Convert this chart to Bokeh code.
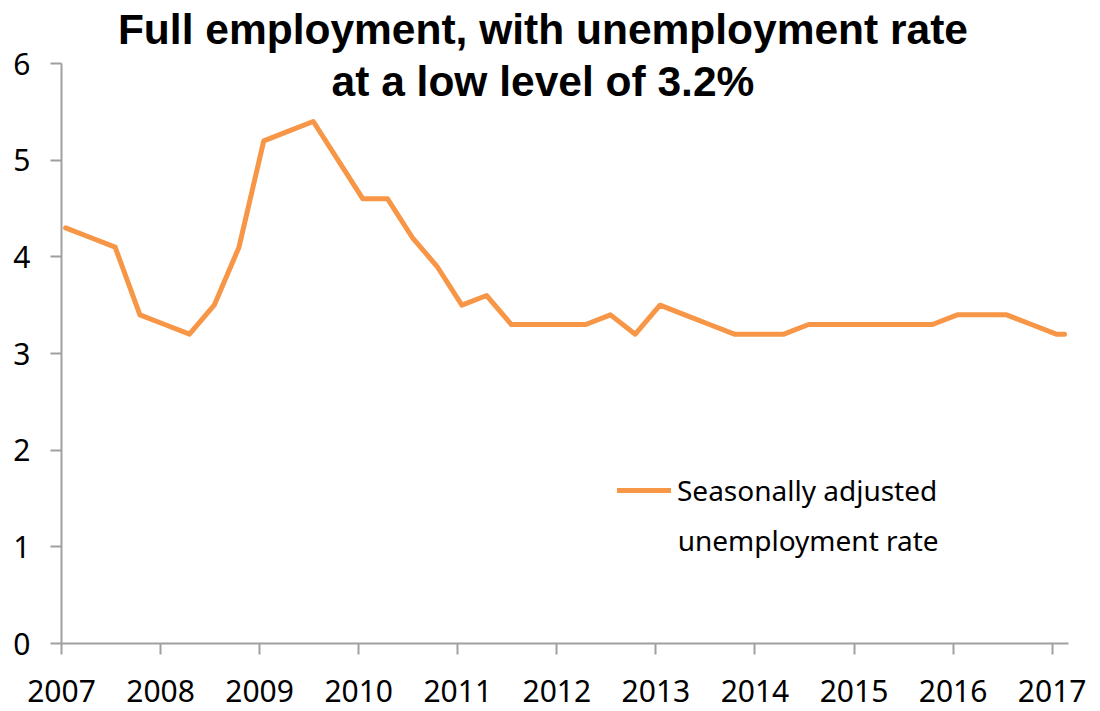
from bokeh.plotting import figure
from bokeh.models import Range1d, FixedTicker, Label, Legend, LegendItem
from bokeh.embed import file_html
from bokeh.resources import INLINE

# ---- data ----
years = [2007]*4 + [2008]*4 + [2009]*4 + [2010]*4 + [2011]*4 + [2012]*4 + \
        [2013]*4 + [2014]*4 + [2015]*4 + [2016]*4 + [2017]*2
months = [1, 4, 7, 10]*10 + [1, 2]
rate = [4.3, 4.2, 4.1, 3.4,
        3.3, 3.2, 3.5, 4.1,
        5.2, 5.3, 5.4, 5.0,
        4.6, 4.6, 4.2, 3.9,
        3.5, 3.6, 3.3, 3.3,
        3.3, 3.3, 3.4, 3.2,
        3.5, 3.4, 3.3, 3.2,
        3.2, 3.2, 3.3, 3.3,
        3.3, 3.3, 3.3, 3.3,
        3.4, 3.4, 3.4, 3.3,
        3.2, 3.2]
year_ticks = list(range(2007, 2018))
y_ticks = [0, 1, 2, 3, 4, 5, 6]
title_lines = ["Full employment, with unemployment rate", "at a low level of 3.2%"]
legend_lines = ["Seasonally adjusted", "unemployment rate"]

xs = [y + (m - 0.5) / 12 for y, m in zip(years, months)]

ORANGE = "#F79646"
AXIS = "#A0A0A0"
FONT = "Noto Sans"

p = figure(width=1100, height=711, output_backend="svg", toolbar_location=None,
           x_range=Range1d(2007, 2017.165), y_range=Range1d(0, 6.652),
           min_border_left=61, min_border_right=32, min_border_top=0, min_border_bottom=68)
p.outline_line_color = None
p.xgrid.visible = False
p.ygrid.visible = False
p.background_fill_color = "white"
p.border_fill_color = "white"

r = p.line(xs, rate, line_color=ORANGE, line_width=5, line_join="round", line_cap="round")

for ax in (p.xaxis[0], p.yaxis[0]):
    ax.axis_line_color = AXIS
    ax.axis_line_width = 2
    ax.major_tick_line_color = AXIS
    ax.major_tick_line_width = 2
    ax.major_tick_in = 0
    ax.major_tick_out = 11
    ax.minor_tick_line_color = None
    ax.major_label_text_font = FONT
    ax.major_label_text_font_size = "30px"
    ax.major_label_text_color = "black"

p.xaxis[0].ticker = FixedTicker(ticks=year_ticks)
p.yaxis[0].ticker = FixedTicker(ticks=y_ticks)
p.yaxis[0].bounds = (0, 6)
p.xaxis[0].major_label_standoff = 25
p.yaxis[0].major_label_standoff = 20

# title (two centered lines over the plot)
p.add_layout(Label(x=2011.86, y=6.351, text=title_lines[0], text_align="center",
                   text_baseline="alphabetic", text_font="Liberation Sans",
                   text_font_style="bold", text_font_size="42.5px", text_color="black"))
p.add_layout(Label(x=2011.86, y=5.813, text=title_lines[1], text_align="center",
                   text_baseline="alphabetic", text_font="Liberation Sans",
                   text_font_style="bold", text_font_size="42.5px", text_color="black"))

legend = Legend(items=[LegendItem(label=legend_lines[0], renderers=[r])],
                location=(556, 134), padding=0, margin=0, border_line_color=None,
                background_fill_alpha=0, glyph_width=54, glyph_height=28,
                label_standoff=6, label_text_font=FONT, label_text_font_size="28px",
                label_text_color="black")
p.add_layout(legend, "center")
p.add_layout(Label(x=2013.22, y=1.07, text=legend_lines[1], text_align="left",
                   text_baseline="alphabetic", text_font=FONT, text_font_size="28px",
                   text_color="black"))

open("out.html", "w").write(file_html(p, INLINE))
